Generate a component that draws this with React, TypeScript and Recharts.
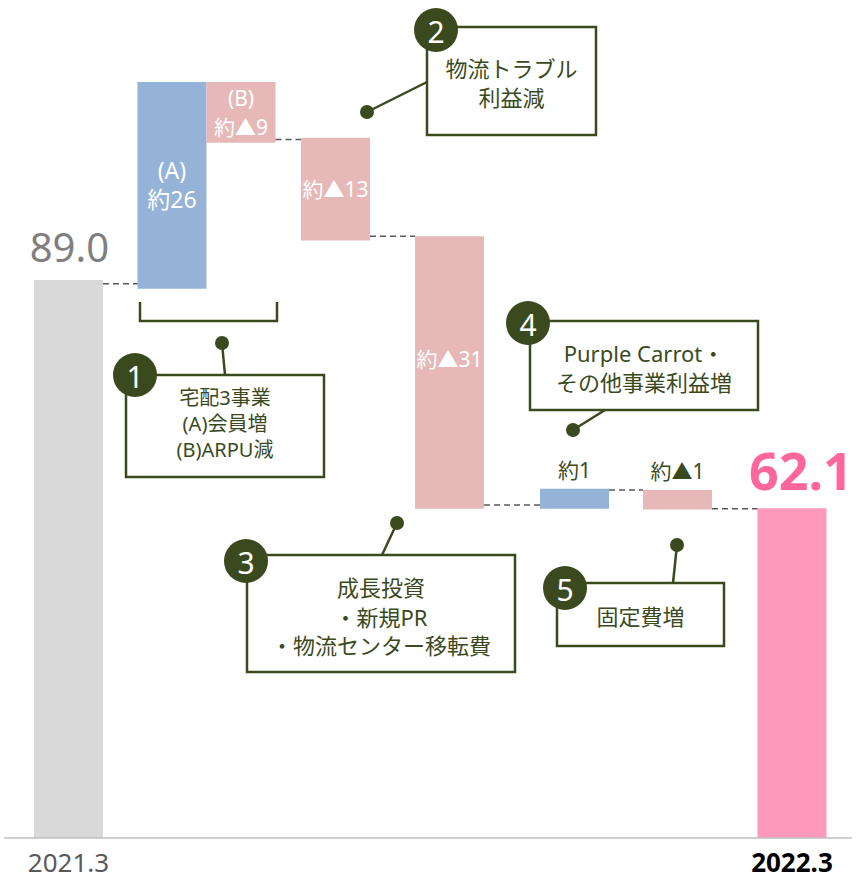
import { ComposedChart, Bar, Cell, XAxis, YAxis, ReferenceLine, LabelList } from 'recharts';

// drawn extents of each step (the chart is not drawn to scale)
const categories = ['2021.3', '(A)', '(B)', '物流トラブル', '成長投資', 'Purple Carrot', '固定費', '2022.3'];
const barLow = [0, 87.6, 110.9, 95.3, 52.5, 52.5, 52.4, 0];
const barHigh = [89.0, 120.6, 120.6, 111.7, 96.0, 55.7, 55.5, 52.6];
const valueLabels = ['89.0', '約26', '約▲9', '約▲13', '約▲31', '約1', '約▲1', '62.1'];
const subLabels = ['', '(A)', '(B)', '', '', '', '', ''];
const linkLevels: (number | null)[] = [88.4, null, 111.4, 96.0, 53.1, 55.5, 52.5];

// layout: category centres in % of axis width
const slotX = [7.6, 19.81, 27.95, 39.09, 52.54, 67.28, 79.42, 92.92];

const W = 856;
const H = 880;
const MARGIN = { top: 23, right: 4, left: 4, bottom: 0 };
const PLOT_W = W - MARGIN.left - MARGIN.right;
const BAR = 69;
const HALF = (BAR / 2 / PLOT_W) * 100;

const BLUE = '#95b3d7';
const ROSE = '#e6b9b8';
const OLIVE = '#3b4a1e';
const FONT = "'Noto Sans', 'Noto Sans CJK JP', sans-serif";
const colors = ['#d9d9d9', BLUE, ROSE, ROSE, ROSE, BLUE, ROSE, '#ff99bb'];

const data = categories.map((name, i) => ({
  name,
  x: slotX[i],
  range: [barLow[i], barHigh[i]],
}));

function BarLabel(props: any) {
  const { x, y, width, height, index } = props;
  const top = Math.min(y, y + height);
  const h = Math.abs(height);
  const cx = x + width / 2;
  const text = valueLabels[index];
  if (index === 0) {
    return (
      <text x={cx + 1} y={top - 18} textAnchor="middle" fontSize={40} fill="#7f7f7f" fontFamily={FONT}>
        {text}
      </text>
    );
  }
  if (index === categories.length - 1) {
    return (
      <text x={cx + 9} y={top - 18} textAnchor="middle" fontSize={52} fontWeight="bold" fill="#ff6699" fontFamily={FONT}>
        {text}
      </text>
    );
  }
  if (index === 5 || index === 6) {
    return (
      <text x={cx} y={top - 11} textAnchor="middle" fontSize={21} fill={OLIVE} fontFamily={FONT}>
        {text}
      </text>
    );
  }
  const sub = subLabels[index];
  const fs = index === 1 ? 23 : 21;
  if (sub) {
    return (
      <text textAnchor="middle" fontSize={fs} fill="#fff" fontFamily={FONT}>
        <tspan x={cx} y={top + h / 2 - 6}>{sub}</tspan>
        <tspan x={cx} y={top + h / 2 + 23}>{text}</tspan>
      </text>
    );
  }
  return (
    <text x={cx} y={top + h / 2 - (index === 4 ? 14 : 0)} textAnchor="middle" dominantBaseline="central" fontSize={fs} fill="#fff" fontFamily={FONT}>
      {text}
    </text>
  );
}

function AxisTick(props: any) {
  const { x, y, payload } = props;
  const last = payload.value === slotX[slotX.length - 1];
  return (
    <text
      x={x}
      y={y + 34}
      textAnchor="middle"
      fontSize={26}
      fontWeight={last ? 'bold' : 'normal'}
      fill={last ? '#000' : '#595959'}
      fontFamily={FONT}
    >
      {last ? categories[categories.length - 1] : categories[0]}
    </text>
  );
}

interface CalloutProps {
  box: [number, number, number, number];
  badge: [number, number];
  num: string;
  lines: string[];
  lineY: number[];
  leader: [number, number, number, number];
  size?: number;
}

function Callout({ box, badge, num, lines, lineY, leader, size = 22 }: CalloutProps) {
  const [bx, by, bw, bh] = box;
  const cx = bx + bw / 2;
  return (
    <g>
      <line x1={leader[0]} y1={leader[1]} x2={leader[2]} y2={leader[3]} stroke={OLIVE} strokeWidth={2.5} />
      <circle cx={leader[2]} cy={leader[3]} r={7} fill={OLIVE} />
      <rect x={bx} y={by} width={bw} height={bh} fill="#fff" stroke={OLIVE} strokeWidth={2.5} />
      {lines.map((t, i) => (
        <text key={i} x={cx} y={lineY[i]} textAnchor="middle" dominantBaseline="central" fontSize={size} fill={OLIVE} fontFamily={FONT}>
          {t}
        </text>
      ))}
      <circle cx={badge[0]} cy={badge[1]} r={22} fill={OLIVE} />
      <text x={badge[0]} y={badge[1] + 1} textAnchor="middle" dominantBaseline="central" fontSize={30} fill="#fff" fontFamily={FONT}>
        {num}
      </text>
    </g>
  );
}

function Annotations() {
  return (
    <svg width={W} height={H} style={{ position: 'absolute', left: 0, top: 0, pointerEvents: 'none' }}>
      <path d="M140 302 V321 H277 V302" fill="none" stroke={OLIVE} strokeWidth={2.5} />
      <Callout box={[126, 375, 198, 102]} badge={[135, 375]} num="1" lines={['宅配3事業', '(A)会員増', '(B)ARPU減']} lineY={[397, 423, 449]} leader={[225, 375, 222, 343]} size={20} />
      <Callout box={[427, 27, 169, 108]} badge={[436, 30]} num="2" lines={['物流トラブル', '利益減']} lineY={[68, 97]} leader={[427, 82, 367, 112]} />
      <Callout box={[247, 555, 268, 117]} badge={[246, 561]} num="3" lines={['成長投資', '・新規PR', '・物流センター移転費']} lineY={[587, 617, 645]} leader={[382, 555, 397, 523]} />
      <Callout box={[530, 321, 228, 89]} badge={[528, 323]} num="4" lines={['Purple Carrot・', 'その他事業利益増']} lineY={[353, 382]} leader={[605, 410, 573, 430]} />
      <Callout box={[557, 583, 167, 63]} badge={[565, 588]} num="5" lines={['固定費増']} lineY={[616]} leader={[673, 583, 677, 545]} />
    </svg>
  );
}

export default function App() {
  return (
    <div style={{ position: 'absolute', left: 0, top: 0, width: W, height: H, background: '#fff' }}>
      <ComposedChart width={W} height={H} data={data} margin={MARGIN} barCategoryGap={0} barGap={0}>
        <XAxis
          dataKey="x"
          type="number"
          domain={[0, 100]}
          allowDataOverflow
          ticks={[slotX[0], slotX[slotX.length - 1]]}
          tick={<AxisTick />}
          tickLine={false}
          tickSize={0}
          tickMargin={0}
          height={42}
          axisLine={{ stroke: '#bfbfbf', strokeWidth: 1.5 }}
          interval={0}
        />
        <YAxis hide domain={[0, 130]} allowDataOverflow />
        {linkLevels.map((lvl, i) =>
          lvl === null ? null : (
            <ReferenceLine
              key={i}
              segment={[
                { x: slotX[i] + HALF, y: lvl },
                { x: slotX[i + 1] - HALF, y: lvl },
              ]}
              stroke="#595959"
              strokeWidth={1.5}
              strokeDasharray="6 4"
            />
          )
        )}
        <Bar dataKey="range" barSize={BAR} isAnimationActive={false}>
          {data.map((d, i) => (
            <Cell key={d.name} fill={colors[i]} />
          ))}
          <LabelList dataKey="range" content={<BarLabel />} />
        </Bar>
      </ComposedChart>
      <Annotations />
    </div>
  );
}
